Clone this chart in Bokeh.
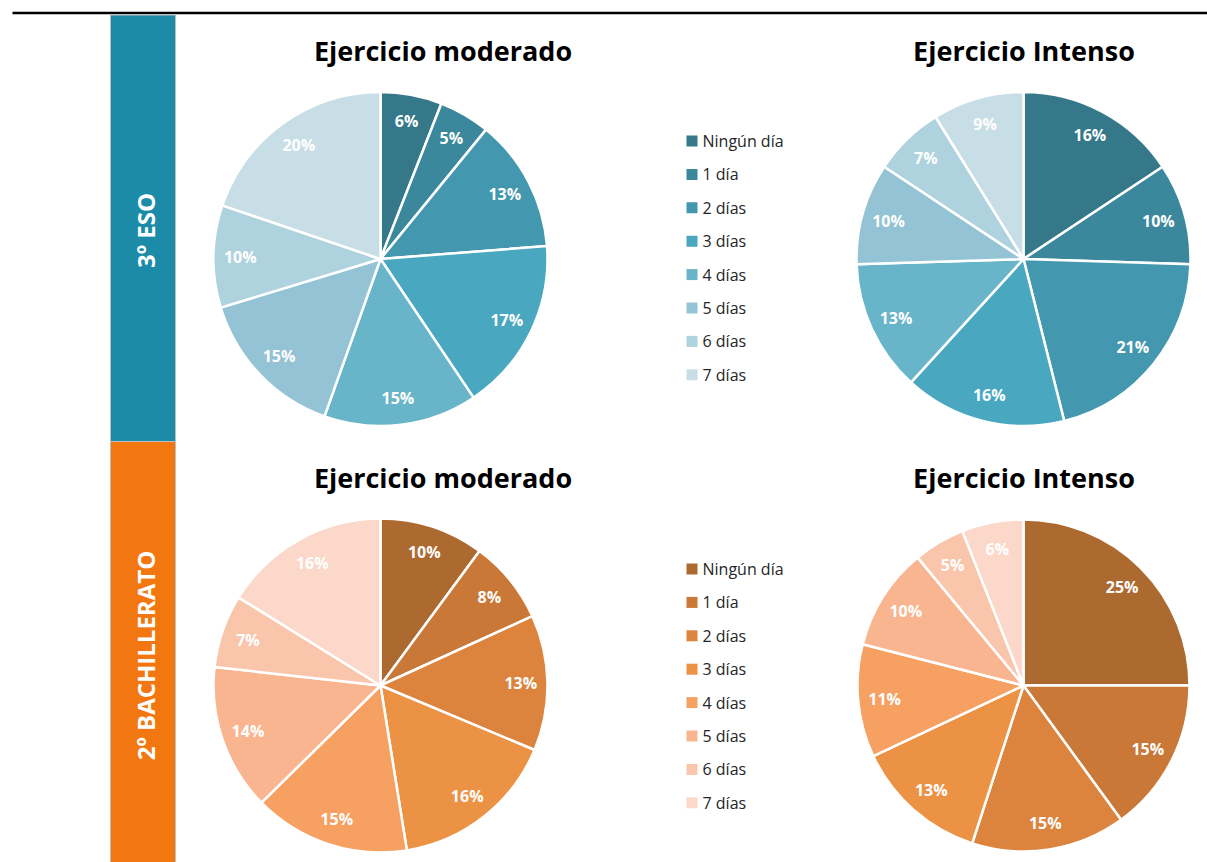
import math
from bokeh.plotting import figure
from bokeh.models import Range1d, ColumnDataSource
from bokeh.core.properties import value
from bokeh.embed import file_html
from bokeh.resources import INLINE

# ---------------- data ----------------
categories = ["Ningún día", "1 día", "2 días", "3 días", "4 días", "5 días", "6 días", "7 días"]
eso_moderado = [6, 5, 13, 17, 15, 15, 10, 20]
eso_intenso = [16, 10, 21, 16, 13, 10, 7, 9]
bach_moderado = [10, 8, 13, 16, 15, 14, 7, 16]
bach_intenso = [25, 15, 15, 13, 11, 10, 5, 6]
group_labels = ["3º ESO", "2º BACHILLERATO"]
titles = ["Ejercicio moderado", "Ejercicio Intenso"]

teal_colors = ["#34788A", "#3B889D", "#4398AF", "#4AA7C0", "#68B4C9", "#93C3D4", "#AFD2DF", "#C8DEE6"]
orange_colors = ["#AD6A30", "#C97837", "#DC843E", "#EC9245", "#F6A062", "#F8B590", "#F9C6AC", "#FBD8CA"]
teal_band = "#1B8BA8"
orange_band = "#F37711"

W, H = 1207, 862
FONT = "Open Sans"


def rx(x):
    return x


def ry(y):
    return H - y


p = figure(width=W, height=H, x_range=Range1d(0, W), y_range=Range1d(0, H),
           output_backend="svg", toolbar_location=None, min_border=0,
           outline_line_color=None, background_fill_color="white")
p.axis.visible = False
p.grid.visible = False

# top rule
p.segment(x0=[rx(12)], y0=[ry(12.5)], x1=[rx(1207)], y1=[ry(12.5)], line_color="black", line_width=2.5)

# side bands
p.quad(left=[rx(110), rx(110)], right=[rx(175), rx(175)],
       top=[ry(14.5), ry(441)], bottom=[ry(441), ry(875)],
       fill_color=[teal_band, orange_band], line_color="#BFBFBF", line_width=1)
p.text(x=[rx(145), rx(145)], y=[ry(230), ry(655)], text=group_labels, angle=math.pi / 2,
       text_align="center", text_baseline="middle", text_color="white",
       text_font=value(FONT), text_font_style="bold", text_font_size="24px")


def pie(vals, colors, cx, cy, r, title, tx, ty):
    total = float(sum(vals))
    cum = [0.0]
    for v in vals:
        cum.append(cum[-1] + v / total)
    starts = [math.pi / 2 - 2 * math.pi * cum[i + 1] for i in range(len(vals))]
    ends = [math.pi / 2 - 2 * math.pi * cum[i] for i in range(len(vals))]
    src = ColumnDataSource(dict(x=[rx(cx)] * len(vals), y=[ry(cy)] * len(vals),
                                s=starts, e=ends, c=colors))
    p.wedge(x="x", y="y", radius=r, start_angle="s", end_angle="e", direction="anticlock",
            fill_color="c", line_color="white", line_width=2.5, source=src)
    lx, ly, lt = [], [], []
    for i, v in enumerate(vals):
        mid = 2 * math.pi * (cum[i] + cum[i + 1]) / 2
        lr = 0.84 * r
        lx.append(rx(cx) + lr * math.sin(mid))
        ly.append(ry(cy) + lr * math.cos(mid))
        lt.append(f"{v}%")
    p.text(x=lx, y=ly, text=lt, text_align="center", text_baseline="middle",
           text_color="white", text_font=value(FONT), text_font_style="bold",
           text_font_size="16px")
    p.text(x=[rx(tx)], y=[ry(ty)], text=[title], text_align="center",
           text_baseline="middle", text_color="black",
           text_font=value(FONT), text_font_style="bold", text_font_size="27px")


pie(eso_moderado, teal_colors, 380, 258.5, 167, titles[0], 442.5, 50)
pie(eso_intenso, teal_colors, 1023, 258.5, 167, titles[1], 1023.5, 50)
pie(bach_moderado, orange_colors, 380, 685, 167, titles[0], 442.5, 477)
pie(bach_intenso, orange_colors, 1023, 685, 166, titles[1], 1023.5, 477)


def legend(colors, y0):
    ys = [ry(y0 + 33.4 * i) for i in range(len(categories))]
    p.rect(x=[rx(691.5)] * len(categories), y=ys, width=11, height=11,
           fill_color=colors, line_color=None)
    p.text(x=[rx(702)] * len(categories), y=ys, text=categories, text_align="left",
           text_baseline="middle", text_color="#262626", text_font=value(FONT),
           text_font_size="16px")


legend(teal_colors, 140.5)
legend(orange_colors, 568.5)

open("out.html", "w").write(file_html(p, INLINE))
